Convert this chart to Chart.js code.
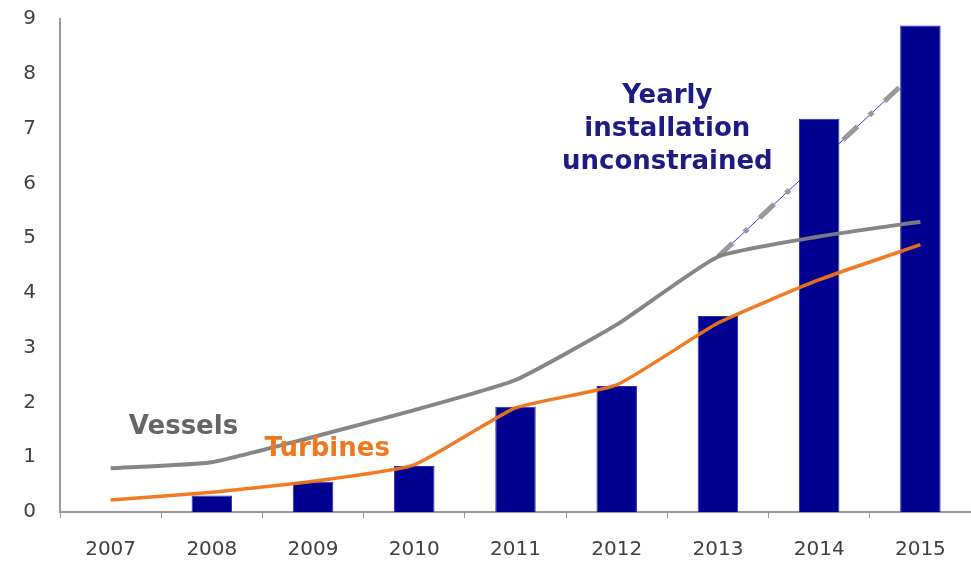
<!DOCTYPE html>
<html>
<head>
<meta charset="utf-8">
<script src="https://cdn.jsdelivr.net/npm/chart.js@4"></script>
<style>
  html, body { margin: 0; padding: 0; background: #fff; }
  #wrap { width: 971px; height: 585px; }
</style>
</head>
<body>
<div id="wrap"><canvas id="installChart"></canvas></div>
<script>
// Data
const years = ['2007', '2008', '2009', '2010', '2011', '2012', '2013', '2014', '2015'];
const yearlyInstall = [0, 0.3, 0.55, 0.84, 1.92, 2.3, 3.58, 7.18, 8.88];
const vessels = [0.8, 0.91, 1.37, 1.86, 2.41, 3.42, 4.66, 5.03, 5.3];
const turbines = [0.22, 0.36, 0.56, 0.86, 1.9, 2.32, 3.45, 4.24, 4.88];
// unconstrained trend (x as category index on a hidden linear axis)
const trendX = [6, 7.79];
const trendY = [4.66, 7.75];
const yTicks = [0, 1, 2, 3, 4, 5, 6, 7, 8, 9];

const labelFont = 'DejaVu Sans, Verdana, sans-serif';

// Text labels placed in data units: [text, xIndex, yValue, colour]
const notes = [
    ['Vessels', 0.72, 1.54, '#666666'],
    ['Turbines', 2.14, 1.15, '#f07820'],
    ['Yearly', 5.5, 7.59, '#1c1c84'],
    ['installation', 5.5, 6.98, '#1c1c84'],
    ['unconstrained', 5.5, 6.38, '#1c1c84'],
];

const notesPlugin = {
    id: 'notes',
    afterDatasetsDraw(chart) {
        const ctx = chart.ctx;
        const xs = chart.scales.x2;
        const ys = chart.scales.y;
        ctx.save();
        ctx.font = 'bold 26px ' + labelFont;
        ctx.textAlign = 'center';
        ctx.textBaseline = 'middle';
        notes.forEach(([text, xi, yv, color]) => {
            ctx.fillStyle = color;
            ctx.fillText(text, xs.getPixelForValue(xi), ys.getPixelForValue(yv));
        });
        ctx.restore();
    }
};

const ctx = document.getElementById('installChart').getContext('2d');
window.installChart = new Chart(ctx, {
    type: 'bar',
    data: {
        labels: years,
        datasets: [
            {
                type: 'line',
                label: 'Vessels',
                data: vessels,
                borderColor: 'rgba(128, 128, 128, 0.95)',
                borderWidth: 4,
                pointRadius: 0,
                tension: 0.15,
                fill: false,
                order: 1
            },
            {
                type: 'line',
                label: 'Turbines',
                data: turbines,
                borderColor: 'rgba(240, 115, 25, 0.95)',
                borderWidth: 3.5,
                pointRadius: 0,
                tension: 0.15,
                fill: false,
                order: 0
            },
            {
                type: 'bar',
                label: 'Yearly installation',
                data: yearlyInstall,
                backgroundColor: '#000090',
                borderColor: '#2a2aa8',
                borderWidth: 1,
                barPercentage: 0.4,
                categoryPercentage: 1,
                grouped: false,
                order: 2
            },
            {
                type: 'line',
                label: 'Unconstrained (dash)',
                data: trendX.map((x, i) => ({ x: x, y: trendY[i] })),
                xAxisID: 'x2',
                borderColor: '#999999',
                borderWidth: 5,
                borderDash: [20, 16, 5, 16],
                pointRadius: 0,
                fill: false,
                order: 3
            },
            {
                type: 'line',
                label: 'Unconstrained',
                data: trendX.map((x, i) => ({ x: x, y: trendY[i] })),
                xAxisID: 'x2',
                borderColor: '#2b3fd6',
                borderWidth: 1,
                pointRadius: 0,
                fill: false,
                order: 4
            }
        ]
    },
    options: {
        responsive: true,
        maintainAspectRatio: false,
        animation: false,
        layout: { padding: { top: 19, right: 0, bottom: 23, left: 0 } },
        plugins: {
            legend: { display: false },
            tooltip: { enabled: false }
        },
        scales: {
            x: {
                type: 'category',
                offset: true,
                grid: {
                    offset: true,
                    drawOnChartArea: false,
                    drawTicks: true,
                    tickLength: 6,
                    color: '#999999'
                },
                border: { color: '#999999', width: 2 },
                ticks: {
                    color: '#404040',
                    padding: 20,
                    font: { family: labelFont, size: 20 },
                    maxRotation: 0
                },
                afterFit(scale) {
                    scale.height = 50;
                }
            },
            x2: {
                type: 'linear',
                display: false,
                offset: false,
                grid: { offset: false },
                min: -0.5,
                max: 8.5
            },
            y: {
                min: 0,
                max: 9,
                afterBuildTicks(scale) {
                    scale.ticks = yTicks.map(v => ({ value: v }));
                },
                afterFit(scale) {
                    scale.width = 60;
                    scale.paddingTop = 0;
                    scale.paddingBottom = 0;
                },
                grid: { display: false, drawTicks: false },
                border: { color: '#999999', width: 2 },
                ticks: {
                    color: '#404040',
                    padding: 24,
                    font: { family: labelFont, size: 20 }
                }
            }
        }
    },
    plugins: [notesPlugin]
});
</script>
</body>
</html>
